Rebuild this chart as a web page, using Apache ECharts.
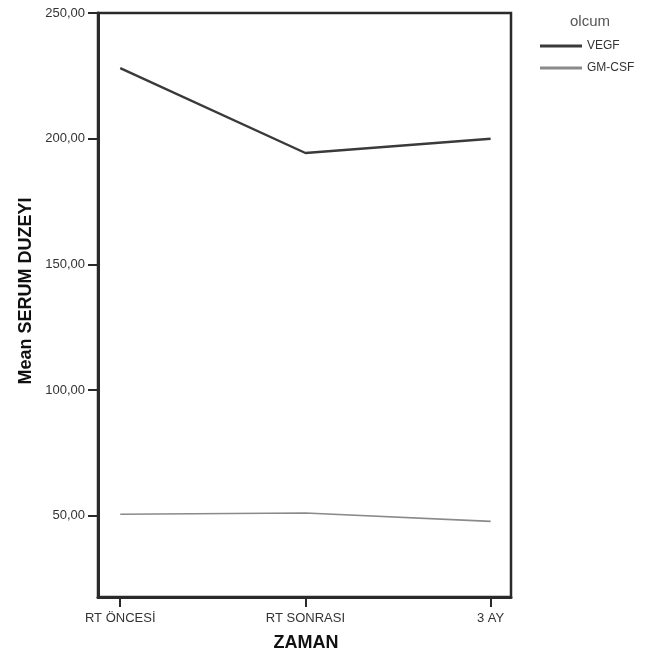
<!DOCTYPE html>
<html>
<head>
<meta charset="utf-8">
<script src="https://cdn.jsdelivr.net/npm/echarts@6/dist/echarts.min.js"></script>
<style>html,body{margin:0;padding:0;background:#fff}#c{width:653px;height:657px}</style>
</head>
<body>
<div id="c"></div>
<script>
const categories = ['RT ÖNCESİ', 'RT SONRASI', '3 AY'];
const vegf = [228.1, 194.3, 200.0];
const gmcsf = [50.6, 51.1, 47.8];
const yTicks = [50, 100, 150, 200, 250];
const yTitle = 'Mean SERUM DUZEYI';
const xTitle = 'ZAMAN';
const legendTitle = 'olcum';

const toPts = arr => arr.map((v, i) => [i, v]);
const chart = echarts.init(document.getElementById('c'));
const font = 'Liberation Sans, Arial, sans-serif';
chart.setOption({
  animation: false,
  backgroundColor: '#fff',
  graphic: [
    { type: 'text', x: 590, y: 22, style: { text: legendTitle, fontFamily: font, fontSize: 15, fill: '#555', align: 'center', verticalAlign: 'middle' } },
    { type: 'text', x: 26, y: 291, rotation: Math.PI / 2, style: { text: yTitle, fontFamily: font, fontSize: 18, fontWeight: 'bold', fill: '#111', align: 'center', verticalAlign: 'middle' } },
    { type: 'text', x: 306, y: 643, style: { text: xTitle, fontFamily: font, fontSize: 18, fontWeight: 'bold', fill: '#111', align: 'center', verticalAlign: 'middle' } }
  ],
  legend: {
    orient: 'vertical', left: 540, top: 40, itemGap: 10, padding: 0,
    itemWidth: 42, itemHeight: 3,
    textStyle: { fontFamily: font, fontSize: 12, color: '#333' },
    data: [
      { name: 'VEGF', icon: 'rect', itemStyle: { color: '#3a3a3a' } },
      { name: 'GM-CSF', icon: 'rect', itemStyle: { color: '#8a8a8a' } }
    ]
  },
  grid: { left: 98, right: 142, top: 13, bottom: 60, show: true, borderColor: '#2a2a2a', borderWidth: 2.5, containLabel: false },
  xAxis: {
    type: 'value', min: -0.12, max: 2.11,
    axisLine: { show: true, onZero: false, lineStyle: { color: '#2a2a2a', width: 3 } },
    axisTick: { show: true, length: 10, customValues: [0, 1, 2], lineStyle: { color: '#2a2a2a', width: 2 } },
    axisLabel: { customValues: [0, 1, 2], formatter: v => categories[Math.round(v)], fontFamily: font, fontSize: 13, color: '#333', margin: 15 },
    splitLine: { show: false }
  },
  yAxis: {
    type: 'value', min: 17.7, max: 250,
    axisLine: { show: true, onZero: false, lineStyle: { color: '#2a2a2a', width: 3 } },
    axisTick: { show: true, length: 10, customValues: yTicks, lineStyle: { color: '#2a2a2a', width: 2 } },
    axisLabel: { customValues: yTicks, formatter: v => v.toFixed(2).replace('.', ','), fontFamily: font, fontSize: 13, color: '#333', margin: 13 },
    splitLine: { show: false }
  },
  series: [
    { name: 'VEGF', type: 'line', data: toPts(vegf), symbol: 'none', lineStyle: { color: '#3a3a3a', width: 2.4 }, itemStyle: { color: '#3a3a3a' } },
    { name: 'GM-CSF', type: 'line', data: toPts(gmcsf), symbol: 'none', lineStyle: { color: '#8a8a8a', width: 1.6 }, itemStyle: { color: '#8a8a8a' } }
  ]
});
</script>
</body>
</html>
